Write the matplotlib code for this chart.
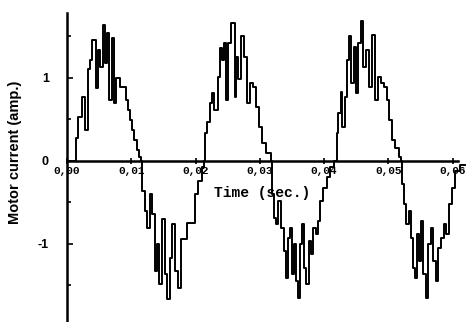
import matplotlib.pyplot as plt
import numpy as np
from matplotlib.ticker import FuncFormatter, MultipleLocator

plt.rcParams['axes.unicode_minus'] = False

# time in ms, motor current in amp.
cycle1_ms = [0.0, 1.4, 1.7, 2.3, 2.8, 3.3, 3.6, 3.9, 4.5, 4.8, 5.1, 5.6, 5.9, 6.2, 6.5,
             7.0, 7.3, 7.6, 8.2, 9.2, 9.5, 9.8, 10.1, 10.4, 10.9, 11.2, 11.5,
             11.7, 12.1, 12.4, 12.9, 13.2, 13.7, 14.0, 14.3, 14.8, 15.2, 15.6, 16.0,
             16.3, 16.8, 17.3, 17.7, 18.7, 19.9, 20.4, 21.0, 21.3]
cycle1_amp = [0.0, 0.28, 0.53, 0.77, 0.37, 1.10, 1.22, 1.46, 0.88, 1.34, 1.13, 1.64, 1.18, 1.54, 0.73,
              1.48, 0.70, 1.00, 0.89, 0.73, 0.61, 0.49, 0.37, 0.25, 0.13, 0.05, 0.0,
              -0.36, -0.60, -0.81, -0.40, -0.64, -1.33, -1.00, -1.48, -0.70, -1.36, -1.66, -1.17,
              -0.76, -1.33, -1.53, -0.94, -0.75, -0.40, -0.24, -0.08, 0.0]

cycle2_ms = [21.5, 21.8, 22.2, 22.5, 22.9, 23.5, 23.8, 24.1, 24.4, 24.7, 25.0, 25.5, 26.1, 26.3,
             26.6, 27.1, 27.5, 28.0, 28.5, 28.9, 29.4, 29.9, 30.3, 30.9, 31.7,
             31.9, 32.2, 32.5, 32.8, 33.3, 33.7, 34.1, 34.4, 34.7, 35.0, 35.3, 35.6, 35.9,
             36.2, 36.5, 36.9, 37.2, 37.6, 37.9, 38.3, 38.7, 39.0, 39.3, 39.8, 40.4, 40.9, 41.5]
cycle2_amp = [0.34, 0.47, 0.70, 0.82, 0.61, 1.01, 1.36, 1.22, 1.42, 0.73, 1.42, 1.66, 0.77, 1.25,
              0.98, 1.50, 1.25, 0.70, 0.94, 0.89, 0.65, 0.41, 0.21, 0.10, 0.0,
              -0.40, -0.69, -0.76, -0.48, -0.81, -1.08, -1.41, -0.93, -0.81, -1.36, -1.00, -1.45, -1.65,
              -1.00, -0.76, -1.29, -1.48, -0.96, -1.12, -0.81, -0.88, -0.72, -0.48, -0.33, -0.20, -0.08, 0.0]

cycle3_ms = [42.0, 42.1, 42.6, 42.8, 43.2, 43.5, 43.9, 44.2, 44.6, 44.9, 45.3, 45.7, 46.0, 46.5,
             47.0, 47.4, 47.9, 48.4, 48.8, 49.3, 49.8, 50.1, 50.5, 51.0, 51.6, 51.9,
             52.1, 52.4, 52.7, 53.2, 53.5, 53.8, 54.1, 54.4, 54.7, 55.1, 55.4, 55.8, 56.1,
             56.6, 56.9, 57.4, 57.7, 58.2, 58.6, 58.9, 59.4, 59.9, 60.3, 61.1, 61.9]
cycle3_amp = [0.34, 0.58, 0.83, 0.41, 0.77, 1.22, 1.50, 0.94, 1.37, 0.82, 1.42, 1.68, 1.13, 1.34,
              0.89, 1.52, 0.73, 1.01, 0.94, 0.89, 0.73, 0.49, 0.25, 0.16, 0.05, 0.0,
              -0.28, -0.52, -0.76, -0.60, -0.93, -1.29, -1.41, -0.88, -1.20, -0.72, -1.36, -1.65, -1.00,
              -0.81, -1.20, -1.45, -1.05, -0.93, -0.76, -0.88, -0.52, -0.33, -0.12, -0.05, -0.05]

xticks = [0.00, 0.01, 0.02, 0.03, 0.04, 0.05, 0.06]
yticks = [-1, 0, 1]

t = np.array(cycle1_ms + cycle2_ms + cycle3_ms) / 1000
amp = np.array(cycle1_amp + cycle2_amp + cycle3_amp)

fig = plt.figure(figsize=(4.7, 3.22), dpi=100)
ax = fig.add_axes([67/470, 0, 403/470, 309/322])

ax.plot(t, amp, color='black', lw=1.4, drawstyle='steps-post')

ax.set_xlim(0, 0.0627)
ax.set_ylim(-1.94, 1.78)

for s in ['top', 'right']:
    ax.spines[s].set_visible(False)
ax.spines['bottom'].set_position(('data', 0))
ax.spines['bottom'].set_bounds(0, 0.0608)
ax.spines['bottom'].set_linewidth(1.8)
ax.spines['left'].set_linewidth(1.8)

ax.set_xticks(xticks)
ax.xaxis.set_major_formatter(FuncFormatter(lambda v, p: f"{v:.2f}".replace('.', ',')))
ax.tick_params(axis='x', direction='inout', length=4, width=1.2, pad=2, labelsize=8)
for lab in ax.get_xticklabels():
    lab.set_family('Liberation Mono')
    lab.set_fontweight('bold')

ax.set_yticks(yticks)
ax.yaxis.set_minor_locator(MultipleLocator(0.5))
ax.tick_params(axis='y', which='both', direction='in', width=1.2, labelsize=9, pad=13)
ax.tick_params(axis='y', which='major', length=4)
ax.tick_params(axis='y', which='minor', length=3)
for lab in ax.get_yticklabels():
    lab.set_family('Liberation Sans')
    lab.set_fontweight('bold')

ax.set_ylabel('Motor current (amp.)', family='Liberation Sans', fontweight='bold', fontsize=10.5)
ax.yaxis.set_label_coords(-0.112, 0.55)

ax.text(0.0303, -0.39, 'Time (sec.)', ha='center', va='center',
        family='Liberation Mono', fontweight='bold', fontsize=10.5)

fig.savefig('out.png', dpi=100)
